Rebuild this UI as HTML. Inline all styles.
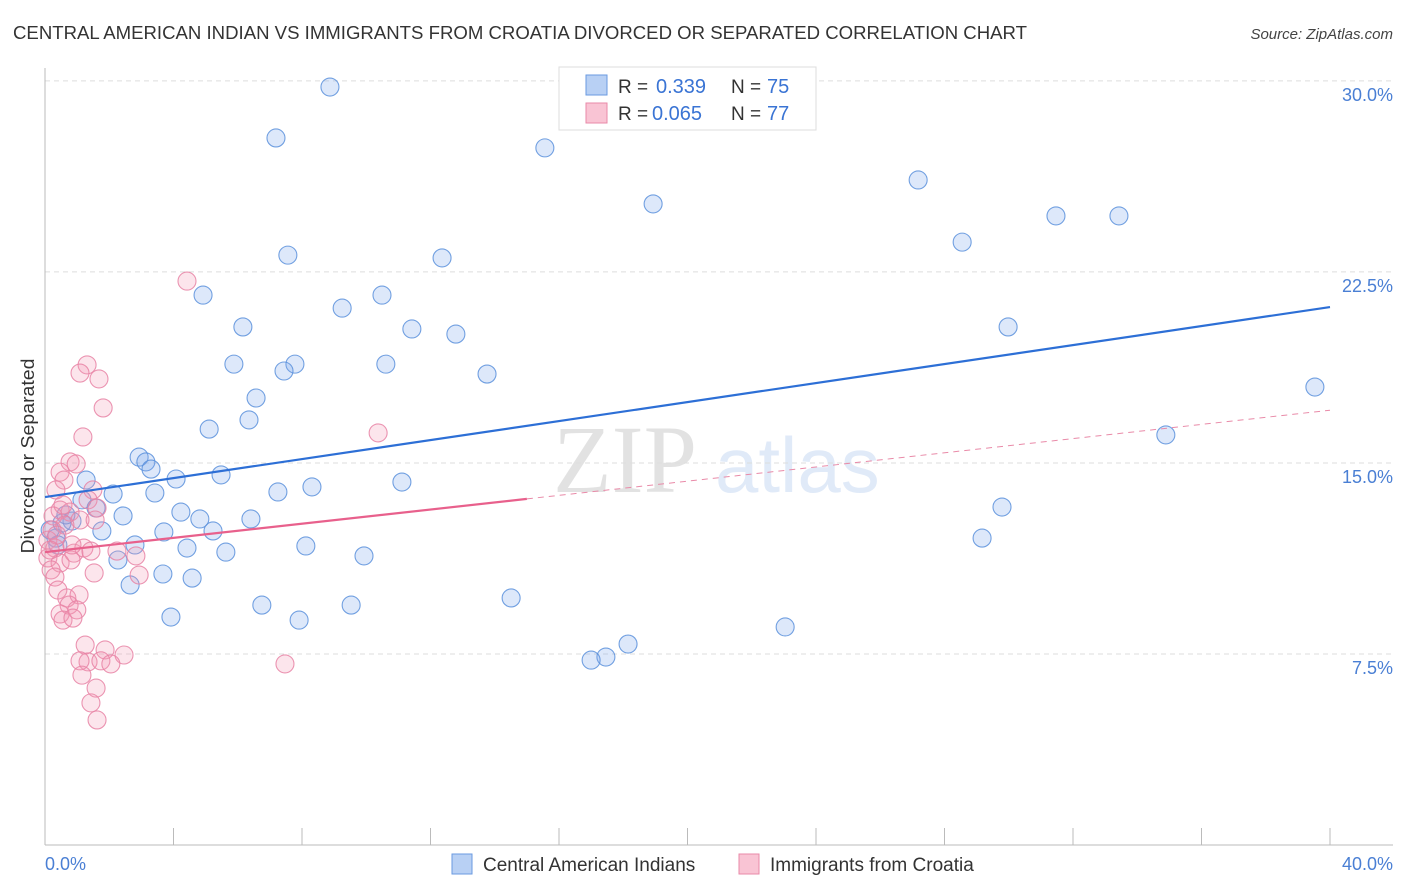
<!DOCTYPE html>
<html><head><meta charset="utf-8"><style>
body{margin:0;background:#fff;font-family:"Liberation Sans",sans-serif;}
svg{display:block}
</style></head><body>
<svg id="chart" width="1406" height="892" xmlns="http://www.w3.org/2000/svg" font-family="Liberation Sans, sans-serif">
<text x="13" y="39" font-size="18" fill="#333" textLength="1014" lengthAdjust="spacingAndGlyphs">CENTRAL AMERICAN INDIAN VS IMMIGRANTS FROM CROATIA DIVORCED OR SEPARATED CORRELATION CHART</text>
<text x="1393" y="39" font-size="15" fill="#444" text-anchor="end" font-style="italic">Source: ZipAtlas.com</text>
<g opacity="0.18">
<text x="553" y="492" font-size="96" font-family="Liberation Serif, serif" fill="#666">ZIP</text>
<text x="715" y="492" font-size="78" fill="#5b8fd9">atlas</text>
</g>
<g id="grid"></g>
<g id="axes"></g>
<g id="pts"></g>
<g id="lines"></g>
<text transform="translate(34,456) rotate(-90)" font-size="18" fill="#333" text-anchor="middle" textLength="195" lengthAdjust="spacingAndGlyphs">Divorced or Separated</text>
<text x="45" y="870" font-size="18" fill="#4a7fd4">0.0%</text>
<text x="1393" y="870" font-size="18" fill="#4a7fd4" text-anchor="end">40.0%</text>
<g>
<rect x="559" y="67" width="257" height="63" fill="#fff" stroke="#ddd"/>
<rect x="586" y="75" width="21" height="20" fill="#b8d0f4" stroke="#6a9ae0"/>
<rect x="586" y="103" width="21" height="20" fill="#f9c4d4" stroke="#e98aa8"/>
<text x="618" y="93" font-size="19" fill="#333">R = </text><text x="656" y="93" font-size="20" fill="#3a74d4">0.339</text>
<text x="731" y="93" font-size="19" fill="#333">N = </text><text x="767" y="93" font-size="20" fill="#3a74d4">75</text>
<text x="618" y="120" font-size="19" fill="#333">R = </text><text x="652" y="120" font-size="20" fill="#3a74d4">0.065</text>
<text x="731" y="120" font-size="19" fill="#333">N = </text><text x="767" y="120" font-size="20" fill="#3a74d4">77</text>
</g>
<g>
<rect x="452" y="854" width="20" height="20" fill="#b8d0f4" stroke="#6a9ae0"/>
<text x="483" y="871" font-size="19" fill="#333">Central American Indians</text>
<rect x="739" y="854" width="20" height="20" fill="#f9c4d4" stroke="#e98aa8"/>
<text x="770" y="871" font-size="19" fill="#333">Immigrants from Croatia</text>
</g>
</svg>
<script>
const yTicks=[7.5,15,22.5,30];
const yTickLabels=["7.5%","15.0%","22.5%","30.0%"];
const xTicks=[4,8,12,16,20,24,28,32,36,40];
const blueX=[8.87,7.19,15.56,7.56,12.36,18.93,27.18,31.47,33.43,28.55,4.92,10.49,9.25,6.16,11.42,12.79,29.98,5.88,7.78,7.44,10.61,13.76,39.53,6.57,6.35,5.11,34.89,2.93,3.14,3.30,1.28,4.08,5.48,3.42,2.12,7.25,8.31,11.11,1.15,1.59,2.43,4.23,4.82,6.41,29.79,0.84,0.53,1.77,3.70,5.23,0.34,2.80,4.42,8.12,5.63,9.93,29.17,2.27,3.67,4.58,2.65,6.75,9.53,14.51,3.92,7.91,23.04,18.15,17.46,17.0,0.16,0.40,0.65];
const blueY=[29.76,27.76,27.37,23.16,23.05,25.17,26.11,24.70,24.70,23.67,21.59,21.59,21.08,20.34,20.26,20.06,20.34,18.88,18.88,18.61,18.88,18.49,17.98,17.55,16.69,16.33,16.10,15.23,15.04,14.76,14.33,14.37,14.53,13.82,13.78,13.86,14.06,14.25,13.55,13.23,12.92,13.07,12.80,12.80,13.27,12.72,12.64,12.33,12.29,12.33,12.05,11.78,11.66,11.74,11.50,11.35,12.05,11.19,10.64,10.48,10.21,9.42,9.42,9.70,8.95,8.83,8.56,7.89,7.38,7.26,12.37,11.78,12.96];
const pinkX=[4.42,1.31,1.09,1.68,1.81,10.37,1.18,0.78,0.97,0.47,0.59,0.34,1.49,1.34,1.62,0.47,0.78,0.25,1.09,0.62,0.22,1.56,0.09,0.31,0.90,1.21,2.24,2.83,1.43,0.09,0.47,0.81,0.19,0.31,1.53,2.93,0.40,0.68,1.06,0.75,0.99,0.47,0.56,0.87,1.25,1.87,1.34,1.09,2.46,1.74,2.05,7.47,1.15,1.59,1.43,1.62,0.37,0.16,0.84,0.56];
const pinkY=[22.14,18.85,18.53,18.30,17.16,16.18,16.02,15.04,14.96,14.64,14.33,13.94,13.94,13.55,13.23,13.15,13.07,12.92,12.76,12.56,12.37,12.76,11.97,11.66,11.46,11.66,11.54,11.35,11.54,11.27,11.07,11.19,10.80,10.52,10.68,10.60,10.01,9.70,9.82,9.42,9.23,9.07,8.83,8.91,7.85,7.66,7.19,7.23,7.46,7.23,7.11,7.11,6.67,6.16,5.58,4.91,12.17,11.58,11.78,13.35];
const blueLine=[13.66,21.12];
const pinkLine=[11.50,17.07];
const pinkSolidEnd=15;

const NS="http://www.w3.org/2000/svg";
const X=v=>45+v*32.125, Y=v=>845-v*25.47;
function mk(tag,attrs,parent){const e=document.createElementNS(NS,tag);for(const k in attrs)e.setAttribute(k,attrs[k]);parent.appendChild(e);return e;}
const grid=document.getElementById('grid'),axes=document.getElementById('axes'),pts=document.getElementById('pts'),lines=document.getElementById('lines');
yTicks.forEach((t,i)=>{
  const l=mk('line',{x1:45,x2:1393,y1:Y(t),y2:Y(t),stroke:'#ddd','stroke-dasharray':'5,4'},grid);
  
  
  const tx=mk('text',{x:1393,y:Y(t)+20,'font-size':18,fill:'#4a7fd4','text-anchor':'end'},grid);
  tx.textContent=yTickLabels[i];
  
  
});
const ax=mk('line',{x1:45,x2:45,y1:68,y2:845,stroke:'#bbb'},axes);


const bx=mk('line',{x1:45,x2:1393,y1:845,y2:845,stroke:'#bbb'},axes);


xTicks.forEach(t=>{
  const l=mk('line',{x1:X(t),x2:X(t),y1:828,y2:845,stroke:'#bbb'},axes);
  
  
});
blueX.forEach((v,i)=>{
  const c=mk('circle',{cx:X(v),cy:Y(blueY[i]),r:9,fill:'rgba(120,165,235,0.25)',stroke:'rgba(90,145,220,0.85)','stroke-width':1.1},pts);
  
  
});
pinkX.forEach((v,i)=>{
  const c=mk('circle',{cx:X(v),cy:Y(pinkY[i]),r:9,fill:'rgba(245,150,180,0.25)',stroke:'rgba(232,130,165,0.85)','stroke-width':1.1},pts);
  
  
});
const bl=mk('line',{x1:X(0),y1:Y(blueLine[0]),x2:X(40),y2:Y(blueLine[1]),stroke:'#2d6fd6','stroke-width':2.2},lines);


const pm=pinkLine[0]+(pinkLine[1]-pinkLine[0])*pinkSolidEnd/40;
const pl=mk('line',{x1:X(0),y1:Y(pinkLine[0]),x2:X(pinkSolidEnd),y2:Y(pm),stroke:'#e8608c','stroke-width':2.2},lines);


const pd=mk('line',{x1:X(pinkSolidEnd),y1:Y(pm),x2:X(40),y2:Y(pinkLine[1]),stroke:'#e98aa8','stroke-width':1,'stroke-dasharray':'6,5'},lines);


</script>
</body></html>
